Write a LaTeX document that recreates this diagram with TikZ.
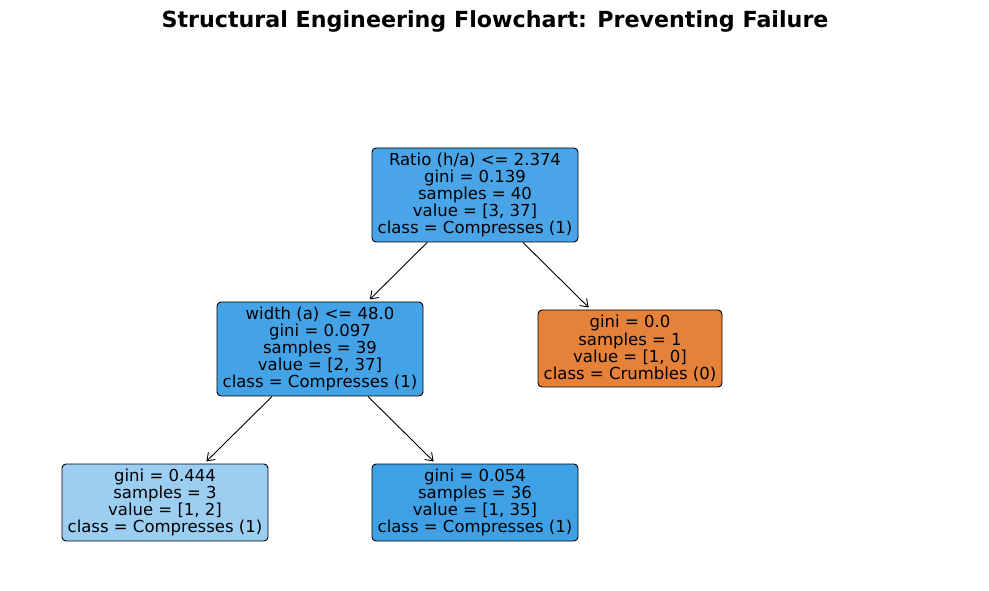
\documentclass[tikz,border=0pt]{standalone}
\usepackage{fontspec}
\setmainfont{DejaVu Sans}
\usetikzlibrary{arrows.meta}
\definecolor{cRoot}{RGB}{73,165,231}
\definecolor{cWid}{RGB}{68,162,230}
\definecolor{cOra}{RGB}{229,129,57}
\definecolor{cLL}{RGB}{156,206,242}
\definecolor{cRL}{RGB}{63,160,230}
\tikzset{
  treenode/.style={draw=black, line width=0.9pt, rounded corners=4pt, inner sep=0pt,
    align=center, font=\fontsize{16.5}{17.2}\selectfont},
  edge/.style={line width=0.9pt, -{Straight Barb[length=7pt,width=10pt,line width=0.9pt]}, shorten >=3pt}
}
\begin{document}
\begin{tikzpicture}[x=1pt,y=1pt]
\useasboundingbox (0,0) rectangle (989,590);
\fill[white] (0,0) rectangle (989,590);
\node[font=\fontsize{22.2}{24}\selectfont\bfseries] (title) at (495,569) {Structural Engineering Flowchart: Preventing Failure};
\node[treenode, fill=cRoot, minimum width=206pt, minimum height=94pt] (root) at (475,395)
  {Ratio (h/a) <= 2.374\\gini = 0.139\\samples = 40\\value = [3, 37]\\class = Compresses (1)};
\node[treenode, fill=cWid, minimum width=206pt, minimum height=94pt] (wid) at (320,241)
  {width (a) <= 48.0\\gini = 0.097\\samples = 39\\value = [2, 37]\\class = Compresses (1)};
\node[treenode, fill=cOra, minimum width=184pt, minimum height=77pt] (ora) at (630,241.5)
  {gini = 0.0\\samples = 1\\value = [1, 0]\\class = Crumbles (0)};
\node[treenode, fill=cLL, minimum width=206pt, minimum height=77pt] (ll) at (165,87.5)
  {gini = 0.444\\samples = 3\\value = [1, 2]\\class = Compresses (1)};
\node[treenode, fill=cRL, minimum width=206pt, minimum height=77pt] (rl) at (475,87.5)
  {gini = 0.054\\samples = 36\\value = [1, 35]\\class = Compresses (1)};
\draw[edge] (root) -- (wid);
\draw[edge] (root) -- (ora);
\draw[edge] (wid) -- (ll);
\draw[edge] (wid) -- (rl);
\end{tikzpicture}
\end{document}
